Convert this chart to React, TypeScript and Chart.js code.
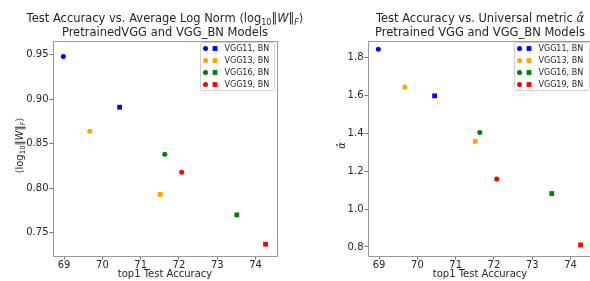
import React, { useEffect, useRef } from 'react';
import { Chart, registerables } from 'chart.js';
Chart.register(...registerables);

const legendLabels = ['VGG11, BN', 'VGG13, BN', 'VGG16, BN', 'VGG19, BN'];
const modelColors = ['#0000ff', '#ffa500', '#008000', '#ff0000'];
const accBase = [68.98, 69.67, 71.63, 72.07];
const accBN = [70.45, 71.51, 73.51, 74.26];
const logNormBase = [0.948, 0.864, 0.838, 0.818];
const logNormBN = [0.891, 0.793, 0.770, 0.737];
const alphaBase = [1.842, 1.643, 1.404, 1.159];
const alphaBN = [1.597, 1.357, 1.082, 0.811];

const FONT = '"DejaVu Sans", sans-serif';
const TEXT = '#262626';

type Seg = { t: string; size: number; dy?: number; italic?: boolean };

function drawRich(ctx: CanvasRenderingContext2D, segs: Seg[], cx: number, cy: number, rot: number, mainSize: number) {
  ctx.save();
  ctx.translate(cx, cy);
  if (rot) ctx.rotate(rot);
  ctx.textBaseline = 'alphabetic';
  ctx.textAlign = 'left';
  ctx.fillStyle = TEXT;
  const f = (s: Seg) => `${s.italic ? 'italic ' : ''}${s.size}px ${FONT}`;
  let total = 0;
  for (const s of segs) { ctx.font = f(s); total += ctx.measureText(s.t).width; }
  let x = -total / 2;
  const base = mainSize * 0.36;
  for (const s of segs) {
    ctx.font = f(s);
    ctx.fillText(s.t, x, base + (s.dy || 0));
    x += ctx.measureText(s.t).width;
  }
  ctx.restore();
}

function drawMarker(ctx: CanvasRenderingContext2D, x: number, y: number, color: string, square: boolean) {
  ctx.fillStyle = color;
  ctx.beginPath();
  if (square) ctx.rect(x - 2.4, y - 2.4, 4.8, 4.8);
  else ctx.arc(x, y, 2.5, 0, Math.PI * 2);
  ctx.fill();
}

type Deco = { title: Seg[][]; yTitle: Seg[]; yTitleX: number; legendW: number; frameRight: boolean };

function makeDeco(d: Deco) {
  return {
    id: 'deco',
    afterDraw(chart: any) {
      const ctx: CanvasRenderingContext2D = chart.ctx;
      const a = chart.chartArea;
      const cx = (a.left + a.right) / 2;
      const L = Math.round(a.left) + 0.5, T = Math.round(a.top) + 0.5;
      const R = Math.round(a.right) + 0.5, B = Math.round(a.bottom) + 0.5;
      ctx.save();
      ctx.strokeStyle = '#9a9a9a';
      ctx.lineWidth = 1;
      ctx.beginPath();
      ctx.moveTo(R, T); ctx.lineTo(L, T);
      ctx.moveTo(L, T); ctx.lineTo(L, B);
      ctx.moveTo(L, B); ctx.lineTo(R, B);
      ctx.stroke();
      if (d.frameRight) {
        ctx.beginPath();
        ctx.moveTo(R, T); ctx.lineTo(R, B);
        ctx.stroke();
      }
      ctx.restore();
      drawRich(ctx, d.title[0], cx, 17.5, 0, 11.5);
      drawRich(ctx, d.title[1], cx, 31.7, 0, 11.5);
      drawRich(ctx, [{ t: 'top1 Test Accuracy', size: 10 }], cx, 273.5, 0, 10);
      drawRich(ctx, d.yTitle, d.yTitleX, (a.top + a.bottom) / 2 - 3, -Math.PI / 2, 10);
      const w = d.legendW, h = 48;
      const lx = a.right - 3.5 - w, ly = a.top + 1;
      ctx.save();
      ctx.fillStyle = 'rgba(255,255,255,0.8)';
      ctx.strokeStyle = '#d0d0d0';
      ctx.lineWidth = 1;
      ctx.beginPath();
      (ctx as any).roundRect(Math.round(lx) + 0.5, Math.round(ly) + 0.5, w, h, 2);
      ctx.fill();
      ctx.stroke();
      for (let i = 0; i < legendLabels.length; i++) {
        const y = ly + 6.5 + 12 * i;
        drawMarker(ctx, lx + 6, y, modelColors[i], false);
        drawMarker(ctx, lx + 15.5, y, modelColors[i], true);
        ctx.fillStyle = TEXT;
        ctx.font = `8px ${FONT}`;
        ctx.textBaseline = 'middle';
        ctx.textAlign = 'left';
        ctx.fillText(legendLabels[i], lx + 25, y + 0.5);
      }
      ctx.restore();
    },
  };
}

function buildDatasets(yBase: number[], yBN: number[]) {
  const ds: any[] = [];
  for (let i = 0; i < modelColors.length; i++) {
    ds.push({
      data: [{ x: accBase[i], y: yBase[i] }],
      pointStyle: 'circle', pointRadius: 2.5, borderWidth: 0,
      backgroundColor: modelColors[i], borderColor: modelColors[i],
    });
    ds.push({
      data: [{ x: accBN[i], y: yBN[i] }],
      pointStyle: 'rect', pointRadius: 3.4, borderWidth: 0,
      backgroundColor: modelColors[i], borderColor: modelColors[i],
    });
  }
  return ds;
}

function makeConfig(opts: {
  yBase: number[]; yBN: number[]; yMin: number; yMax: number; yStep: number; yDec: number;
  yWidth: number; padRight: number; deco: Deco;
}) {
  const tickFont = { family: FONT, size: 10 };
  return {
    type: 'scatter',
    data: { datasets: buildDatasets(opts.yBase, opts.yBN) },
    options: {
      animation: false,
      responsive: false,
      maintainAspectRatio: false,
      layout: { padding: { left: 0, right: opts.padRight, top: 41, bottom: 0 } },
      plugins: { legend: { display: false }, title: { display: false }, tooltip: { enabled: false } },
      scales: {
        x: {
          type: 'linear', min: 68.71, max: 74.56,
          afterFit: (s: any) => { s.height = 25; },
          ticks: { stepSize: 1, includeBounds: false, font: tickFont, color: TEXT, padding: 0, maxRotation: 0,
            callback: (v: any) => String(Math.round(v)) },
          grid: { drawOnChartArea: false, drawTicks: true, tickLength: 3.5, color: '#777' },
          border: { display: false },
        },
        y: {
          type: 'linear', min: opts.yMin, max: opts.yMax,
          afterFit: (s: any) => { s.width = opts.yWidth; },
          ticks: { stepSize: opts.yStep, includeBounds: false, font: tickFont, color: TEXT, padding: 1,
            callback: (v: any) => Number(v).toFixed(opts.yDec) },
          grid: { drawOnChartArea: false, drawTicks: true, tickLength: 3.5, color: '#777' },
          border: { display: false },
        },
      },
    },
    plugins: [makeDeco(opts.deco)],
  } as any;
}

function ChartCanvas({ config, left, width }: { config: any; left: number; width: number }) {
  const ref = useRef<HTMLCanvasElement>(null);
  useEffect(() => {
    const chart = new Chart(ref.current as HTMLCanvasElement, config);
    return () => chart.destroy();
  }, []);
  return (
    <canvas ref={ref} width={width} height={281}
      style={{ position: 'absolute', left, top: 0, width, height: 281, display: 'block' }} />
  );
}

const leftConfig = makeConfig({
  yBase: logNormBase, yBN: logNormBN, yMin: 0.7238, yMax: 0.9654, yStep: 0.05, yDec: 2,
  yWidth: 53, padRight: 43,
  deco: {
    title: [
      [
        { t: 'Test Accuracy vs. Average Log Norm \u27E8log', size: 11.5 },
        { t: '10', size: 8, dy: 3 },
        { t: '\u2016', size: 11.5 },
        { t: 'W', size: 11.5, italic: true },
        { t: '\u2016', size: 11.5 },
        { t: 'F', size: 8, dy: 3, italic: true },
        { t: '\u27E9', size: 11.5 },
      ],
      [{ t: 'PretrainedVGG and VGG_BN Models', size: 11.5 }],
    ],
    yTitle: [
      { t: '\u27E8log', size: 10 },
      { t: '10', size: 7, dy: 2.5 },
      { t: '\u2016', size: 10 },
      { t: 'W', size: 10, italic: true },
      { t: '\u2016', size: 10 },
      { t: 'F', size: 7, dy: 2.5, italic: true },
      { t: '\u27E9', size: 10 },
    ],
    yTitleX: 19,
    legendW: 74,
    frameRight: true,
  },
});

const rightConfig = makeConfig({
  yBase: alphaBase, yBN: alphaBN, yMin: 0.7525, yMax: 1.886, yStep: 0.2, yDec: 1,
  yWidth: 72, padRight: 8,
  deco: {
    title: [
      [
        { t: 'Test Accuracy vs. Universal metric ', size: 11.5 },
        { t: '\u03B1\u0302', size: 11.5, italic: true },
      ],
      [{ t: 'Pretrained VGG and VGG_BN Models', size: 11.5 }],
    ],
    yTitle: [{ t: '\u03B1\u0302', size: 10, italic: true }],
    yTitleX: 45.7,
    legendW: 75,
    frameRight: false,
  },
});

export default function App() {
  return (
    <div style={{ position: 'fixed', left: 0, top: 0, width: 590, height: 281, overflow: 'hidden', background: '#fff' }}>
      <ChartCanvas config={leftConfig} left={0} width={320} />
      <ChartCanvas config={rightConfig} left={296} width={304} />
    </div>
  );
}
